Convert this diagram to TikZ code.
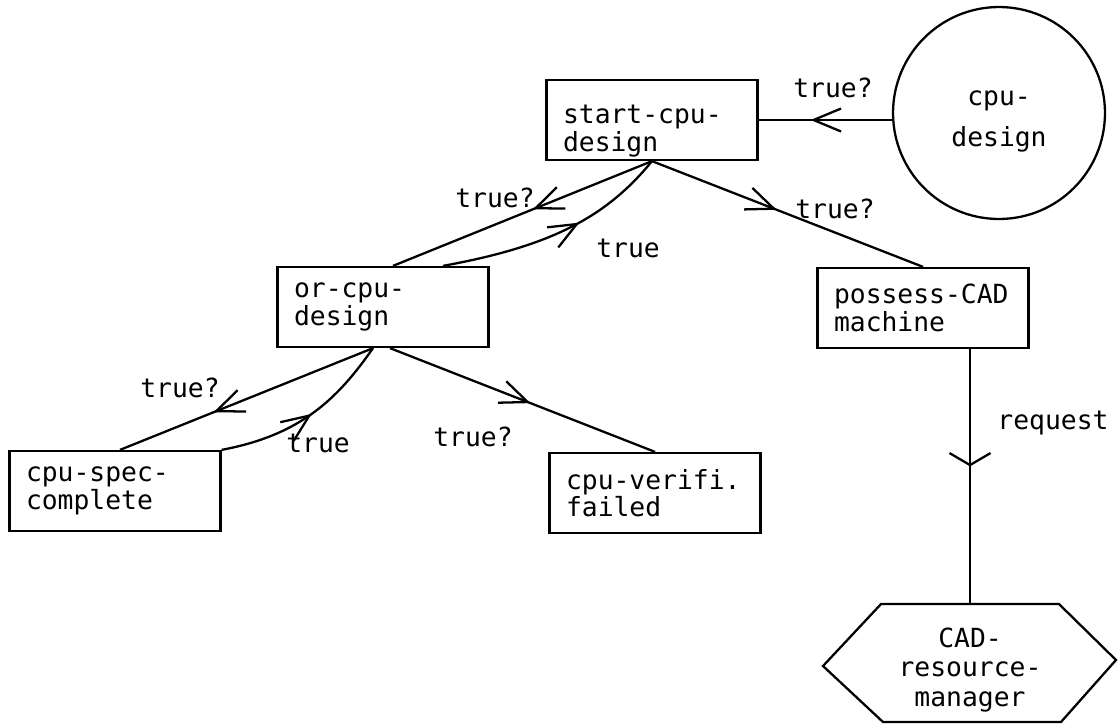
\documentclass[tikz,border=0pt]{standalone}
\usepackage{fontspec}
\setmainfont{DejaVu Sans Mono}
\usetikzlibrary{positioning,calc,arrows.meta,decorations.markings}

\tikzset{
  barb/.tip={Straight Barb[length=5.5mm,width=4.6mm]},
  widebarb/.tip={Straight Barb[length=2.4mm,width=8.2mm]},
  tipat/.style={postaction={decorate,decoration={markings,mark=at position #1 with {\arrow{barb}}}}},
  widetipat/.style={postaction={decorate,decoration={markings,mark=at position #1 with {\arrow{widebarb}}}}},
}

\begin{document}
\begin{tikzpicture}[x=0.02cm, y=-0.02cm, line width=1.3pt,
    font=\fontsize{15}{14.5}\selectfont,
    box/.style={draw, rectangle, text width=3.56cm, inner xsep=0.33cm, minimum height=1.6cm, align=left},
    lbl/.style={inner sep=0pt}]
    \useasboundingbox (0,0) rectangle (1119,724);
    % Nodes
    \node [box, inner ysep=0pt, text height=23pt] (start) at (652,120) {start-cpu-\\design};
    \node [draw, circle, minimum size=4.24cm, align=center, text height=41pt,
           font=\fontsize{15}{23}\selectfont] (cpu) at (999,113) {cpu-\\design};
    \node [box] (orcpu) at (383,307) {or-cpu-\\design};
    \node [box] (possess) at (923,308) {possess-CAD\\machine};
    \node [box] (spec) at (115,491) {cpu-spec-\\complete};
    \node [box] (verifi) at (655,493) {cpu-verifi.\\failed};
    \node [outer sep=0pt, minimum width=3.56cm, minimum height=2.64cm, align=center,
           font=\fontsize{15}{17}\selectfont] (crm) at (970,670) {CAD-\\resource-\\manager};
    \draw (crm.north west) -- (crm.north east) -- ($(crm.center)+(146,-10)$) -- ($(crm.center)+(91,52)$)
          -- ($(crm.center)+(-87,52)$) -- ($(crm.center)+(-147,-4)$) -- cycle;

    % Labels
    \node [lbl] (tq1) at (833,88) {true?};
    \node [lbl] (tq2) at (495,198) {true?};
    \node [lbl] (t2) at (628,248) {true};
    \node [lbl] (tq3) at (835,209) {true?};
    \node [lbl] (tq4) at (180,388) {true?};
    \node [lbl] (t4) at (318,443) {true};
    \node [lbl] (tq5) at (473,437) {true?};
    \node [lbl] (req) at (1053,423) {request};

    % Arrows
    \draw [tipat=0.61] (cpu.west |- start.east) -- (start.east);
    \draw [tipat=0.46] (start.south) -- ($(orcpu.north)+(10,0)$);
    \draw [tipat=0.6] ($(orcpu.north)+(60,0)$) .. controls +(110,-20) and +(-45,55) .. (start.south);
    \draw [tipat=0.46] (start.south) -- (possess.north);
    \draw [tipat=0.63] ($(orcpu.south)+(-10,0)$) -- ($(spec.north)+(5,0)$);
    \draw [tipat=0.52] (spec.north east) .. controls +(80,-15) and +(-35,50) .. ($(orcpu.south)+(-10,0)$);
    \draw [tipat=0.53] ($(orcpu.south)+(7,0)$) -- (verifi.north);
    \draw [widetipat=0.46] (possess.south -| crm.north) -- (crm.north);
\end{tikzpicture}
\end{document}
